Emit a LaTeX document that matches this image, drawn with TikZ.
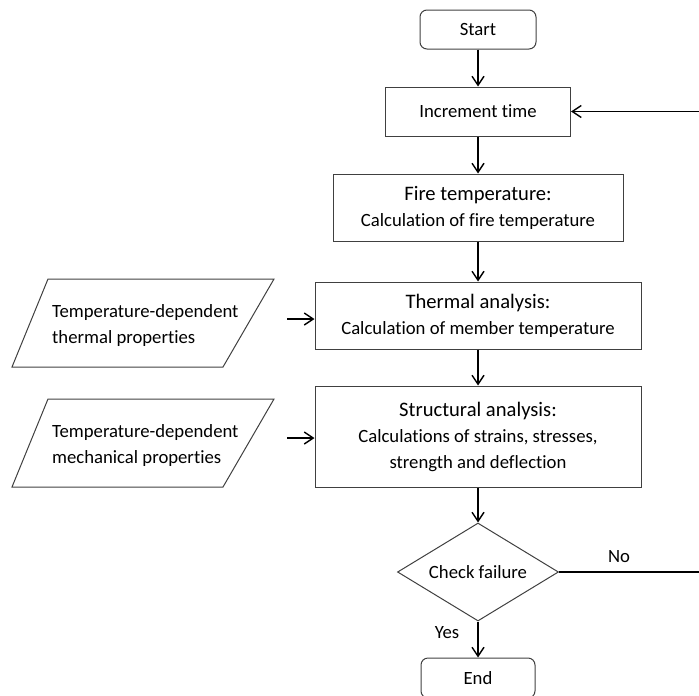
\documentclass[tikz,border=0pt]{standalone}
\usepackage{fontspec}
\setmainfont[Ligatures=NoCommon]{Carlito}
\usetikzlibrary{arrows.meta,shapes.geometric}
\begin{document}
\begin{tikzpicture}[x=1pt,y=-1pt,
  box/.style={draw=black!75,line width=1pt,minimum width=#1,inner sep=0pt,align=center,
    font=\fontsize{18.7}{26}\selectfont},
  rbox/.style={box=#1,rounded corners=7pt},
  conn/.style={draw=black,line width=1.4pt,-{Straight Barb[length=9pt,width=12pt,line width=1.4pt]}},
  lbl/.style={font=\fontsize{18.7}{24}\selectfont,inner sep=0pt},
  inp/.style={draw=black!75,line width=1pt}
]
\newcommand{\ttl}{\fontsize{20.6}{26}\selectfont}
\useasboundingbox (0,0) rectangle (699,696);

\node[rbox=116pt,minimum height=39pt] (start) at (478,29.5) {Start};
\node[box=185pt,minimum height=49pt] (inc) at (478,111.5) {Increment time};
\node[box=290pt,minimum height=67pt] (fire) at (478,207.5) {{\ttl Fire temperature:}\\Calculation of fire temperature};
\node[box=326pt,minimum height=67pt] (therm) at (478,315.5) {{\ttl Thermal analysis:}\\Calculation of member temperature};
\node[box=326pt,minimum height=101pt] (struct) at (478,436.5) {{\ttl Structural analysis:}\\Calculations of strains, stresses,\\strength and deflection};
\node[draw=black!75,line width=1pt,diamond,aspect=1.64,minimum width=161pt,minimum height=98pt,inner sep=0pt,
  font=\fontsize{18.7}{24}\selectfont] (check) at (478,572) {Check failure};
\node[rbox=114pt,minimum height=40pt] (end) at (478,678) {End};

% input parallelograms
\draw[inp] (48,279) -- (274,279) -- (223,367) -- (12,367) -- cycle;
\node[lbl,anchor=west,align=left,font=\fontsize{18.7}{26}\selectfont] (inp1) at (52,326) {Temperature-dependent\\thermal properties};
\draw[inp] (48,399) -- (274,399) -- (223,487) -- (12,487) -- cycle;
\node[lbl,anchor=west,align=left,font=\fontsize{18.7}{26}\selectfont] (inp2) at (52,446) {Temperature-dependent\\mechanical properties};

\coordinate (a1) at (287,319);
\coordinate (a2) at (287,438);
\coordinate (loop) at (701,572);

\draw[conn] (start) -- (inc);
\draw[conn] (inc) -- (fire);
\draw[conn] (fire) -- (therm);
\draw[conn] (therm) -- (struct);
\draw[conn] (struct) -- (check);
\draw[conn] (check) -- (end);
\draw[conn] (a1) -- (a1 -| therm.west);
\draw[conn] (a2) -- (a2 -| struct.west);
\draw[conn] (check.east) -- (loop) |- (inc.east);

\node[lbl] (no) at (619,557) {No};
\node[lbl] (yes) at (447,633) {Yes};
\end{tikzpicture}
\end{document}
